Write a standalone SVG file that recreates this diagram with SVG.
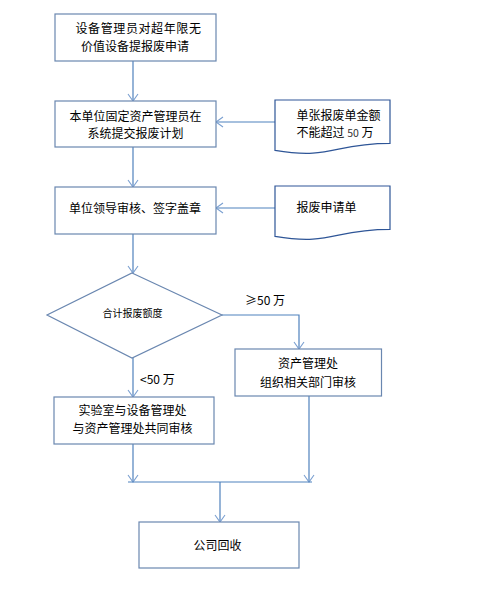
<svg xmlns="http://www.w3.org/2000/svg" width="480" height="592" viewBox="0 0 480 592">
<style>
.box{fill:#fff;stroke:#6a87b0;stroke-width:1.2}
.doc{fill:#fff;stroke:#2e5597;stroke-width:1.2}
.ln{fill:none;stroke:#4f81bd;stroke-width:1.2}
text{font-family:"Noto Sans CJK SC","Liberation Sans",sans-serif;font-size:12px;fill:#000}
.s{font-size:10px}
</style>
<defs>
<marker id="ah" markerUnits="userSpaceOnUse" markerWidth="16" markerHeight="16" viewBox="-8 -8 16 16" refX="0" refY="0" orient="auto">
<path d="M-7,-5 L0,0 L-7,5" fill="none" stroke="#7a9fd0" stroke-width="1.1"/>
</marker>
</defs>
<rect width="480" height="592" fill="#fff"/>
<g id="connectors">
<line class="ln" x1="133" y1="61" x2="133" y2="101" marker-end="url(#ah)"/>
<line class="ln" x1="133" y1="147" x2="133" y2="187" marker-end="url(#ah)"/>
<line class="ln" x1="275" y1="122" x2="216" y2="122" marker-end="url(#ah)"/>
<line class="ln" x1="275" y1="208" x2="216" y2="208" marker-end="url(#ah)"/>
<line class="ln" x1="133" y1="234" x2="133" y2="273" marker-end="url(#ah)"/>
<polyline class="ln" points="222,315 299,315 299,349" marker-end="url(#ah)"/>
<line class="ln" x1="133" y1="358" x2="133" y2="397" marker-end="url(#ah)"/>
<line class="ln" x1="133" y1="444" x2="133" y2="482" marker-end="url(#ah)"/>
<line class="ln" x1="309" y1="396" x2="309" y2="482" marker-end="url(#ah)"/>
<line class="ln" x1="128" y1="482" x2="312" y2="482"/>
<line class="ln" x1="220" y1="482" x2="220" y2="522" marker-end="url(#ah)"/>
<text x="245" y="305">≥50 万</text>
<text x="140" y="384">&lt;50 万</text>
</g>
<g id="n1">
<rect class="box" x="55" y="14" width="161" height="47"/>
<text x="75.5" y="32.5" letter-spacing="0.6">设备管理员对超年限无</text>
<text x="81" y="50.5">价值设备提报废申请</text>
</g>
<g id="n2">
<rect class="box" x="55" y="101" width="161" height="46"/>
<text x="135.5" y="120.8" text-anchor="middle">本单位固定资产管理员在</text>
<text x="135.5" y="138.4" text-anchor="middle">系统提交报废计划</text>
</g>
<g id="d1">
<path class="doc" d="M275,100 H390 V143.3 C332.5,143.3 332.5,159.8 275,150.4 Z"/>
<text x="296.5" y="119.8">单张报废单金额</text>
<text x="296.5" y="137.4">不能超过 <tspan font-size="10.5" fill="#333">50</tspan> 万</text>
</g>
<g id="n3">
<rect class="box" x="55" y="187" width="161" height="47"/>
<text x="69" y="213">单位领导审核、签字盖章</text>
</g>
<g id="d2">
<path class="doc" d="M275,186 H390 V229.3 C332.5,229.3 332.5,245.8 275,236.4 Z"/>
<text x="296.5" y="211.5">报废申请单</text>
</g>
<g id="dec">
<polygon class="box" points="132,273 222,315 132,358 47,315"/>
<text class="s" x="132.5" y="316.5" text-anchor="middle">合计报废额度</text>
</g>
<g id="n4">
<rect class="box" x="235" y="349" width="146.5" height="47"/>
<text x="308" y="367.8" text-anchor="middle">资产管理处</text>
<text x="308" y="386.8" text-anchor="middle">组织相关部门审核</text>
</g>
<g id="n5">
<rect class="box" x="54" y="397" width="160" height="47"/>
<text x="132.5" y="415" text-anchor="middle">实验室与设备管理处</text>
<text x="132.5" y="433" text-anchor="middle">与资产管理处共同审核</text>
</g>
<g id="n6">
<rect class="box" x="139" y="522" width="160" height="46"/>
<text x="217.5" y="550" text-anchor="middle">公司回收</text>
</g>
</svg>
